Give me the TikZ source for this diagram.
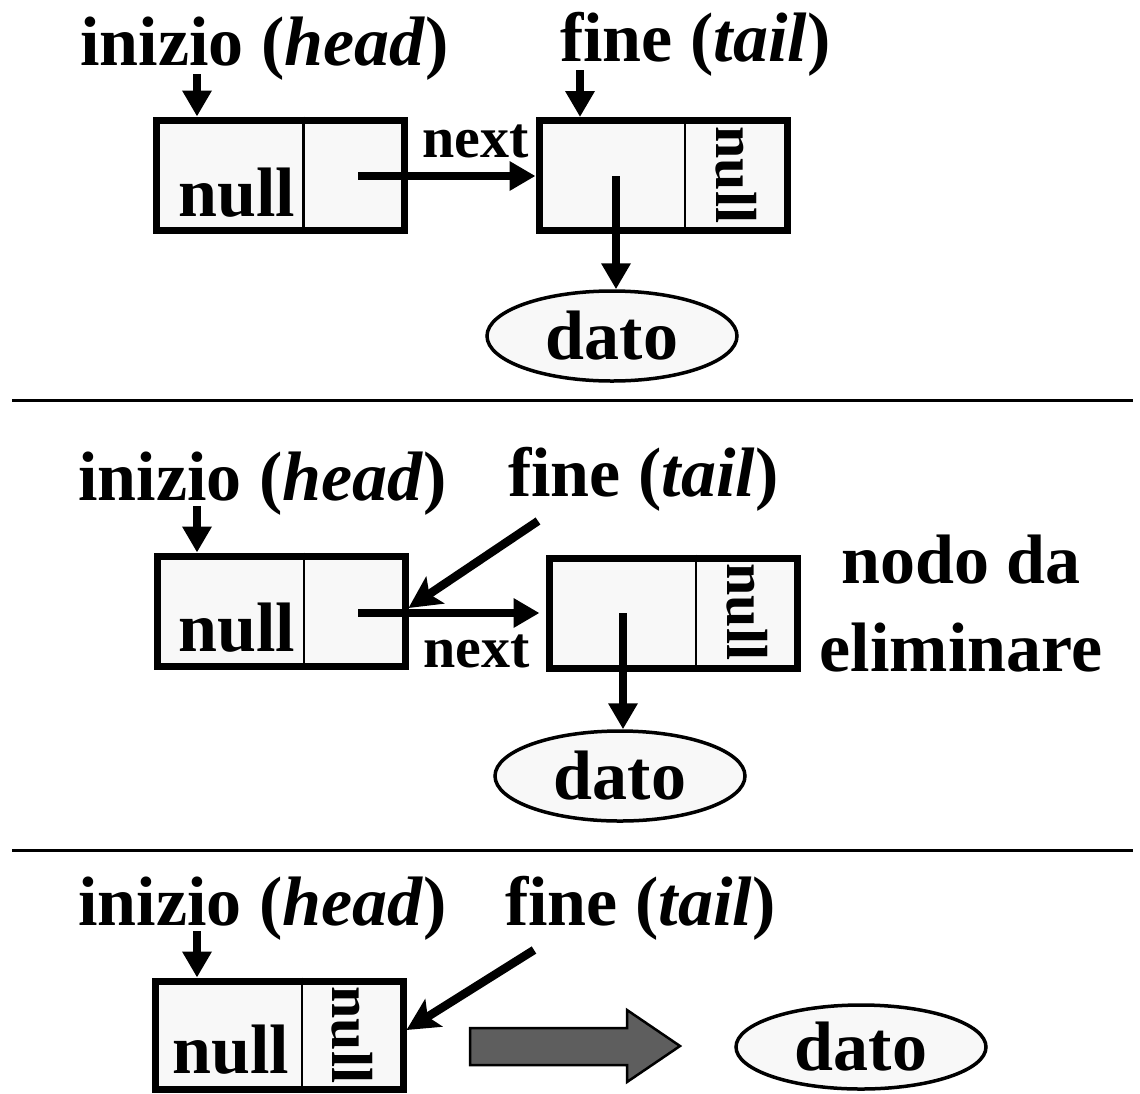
\documentclass[tikz,border=0pt]{standalone}
\usepackage{fontspec}
\setmainfont{Liberation Serif}
\usetikzlibrary{arrows.meta,shapes.geometric}
\definecolor{cellfill}{HTML}{F8F8F8}
\definecolor{bigarrow}{HTML}{5E5E5E}
\begin{document}
\begin{tikzpicture}[x=1pt,y=-1pt,
  lbl/.style={inner sep=0pt, anchor=base west, font=\fontsize{70}{80}\selectfont\bfseries},
  nextlbl/.style={inner sep=0pt, anchor=base west, font=\fontsize{58}{66}\selectfont\bfseries},
  rotnull/.style={inner sep=0pt, anchor=center, rotate=-90, font=\fontsize{58}{64}\selectfont\bfseries},
  cell/.style={draw, line width=7pt, fill=cellfill, minimum width=248pt, minimum height=110pt, inner sep=0pt},
  divider/.style={line width=2.5pt},
  datum/.style={ellipse, draw, line width=3.5pt, fill=cellfill, minimum width=250pt, minimum height=90pt, inner sep=0pt, font=\fontsize{70}{80}\selectfont\bfseries},
  ptr/.style={line width=8.5pt, -{Triangle[length=26pt,width=28pt]}},
  diag/.style={line width=8.5pt, -{Stealth[length=32pt,width=32pt,inset=7pt]}},
  sep/.style={line width=3pt}
]
\useasboundingbox (0,0) rectangle (1140,1093);

% ---------------- Panel 1 ----------------
\node[lbl] (ih1) at (80,65) {inizio (\textit{head})};
\node[lbl] (ft1) at (560,61) {fine (\textit{tail})};
\node[cell] (a1) at (280.5,175) {};
\draw[divider] ([xshift=23pt]a1.north) -- ([xshift=23pt]a1.south);
\node[cell] (b1) at (663,175.5) {};
\draw[divider] ([xshift=22pt]b1.north) -- ([xshift=22pt]b1.south);
\node[lbl] (n1) at (178,216) {null};
\node[rotnull] (r1) at (736,175) {null};
\node[nextlbl] (x1) at (422,157) {next};
\node[datum] (e1) at (612,336) {dato};
\coordinate (h1) at (197,74);
\coordinate (t1) at (580,70);
\coordinate (p1) at (358,176);
\coordinate (d1) at (616,176);
\draw[ptr] (h1) -- (h1 |- a1.north);
\draw[ptr] (t1) -- (t1 |- b1.north);
\draw[ptr] (p1) -- (p1 -| b1.west);
\draw[ptr] (d1) -- (d1 |- e1.north);

\coordinate (s1a) at (12,400);
\coordinate (s1b) at (1133,400);
\draw[sep] (s1a) -- (s1b);

% ---------------- Panel 2 ----------------
\node[lbl] (ih2) at (78,500) {inizio (\textit{head})};
\node[lbl] (ft2) at (508,496) {fine (\textit{tail})};
\node[cell] (a2) at (281,611) {};
\draw[divider] ([xshift=23pt]a2.north) -- ([xshift=23pt]a2.south);
\node[cell] (b2) at (673,613) {};
\draw[divider] ([xshift=23pt]b2.north) -- ([xshift=23pt]b2.south);
\node[lbl] (n2) at (178,651) {null};
\node[rotnull] (r2) at (747,612) {null};
\node[nextlbl] (x2) at (423,667) {next};
\node[datum] (e2) at (620,776) {dato};
\node[inner sep=0pt, align=center, font=\fontsize{70}{88}\selectfont\bfseries] (del) at (961,604) {nodo da\\eliminare};
\coordinate (h2) at (197,506);
\coordinate (t2) at (538,521);
\coordinate (p2) at (358,613);
\coordinate (d2) at (623,613);
\draw[ptr] (h2) -- (h2 |- a2.north);
\draw[diag] (t2) -- ([yshift=3pt]a2.east);
\draw[ptr, shorten >=6pt] (p2) -- (p2 -| b2.west);
\draw[ptr] (d2) -- (d2 |- e2.north);

\coordinate (s2a) at (12,850);
\coordinate (s2b) at (1133,850);
\draw[sep] (s2a) -- (s2b);

% ---------------- Panel 3 ----------------
\node[lbl] (ih3) at (78,925) {inizio (\textit{head})};
\node[lbl] (ft3) at (505,925) {fine (\textit{tail})};
\node[cell, minimum height=108pt] (a3) at (279,1035) {};
\draw[divider] ([xshift=23pt]a3.north) -- ([xshift=23pt]a3.south);
\node[lbl] (n3) at (172,1073) {null};
\node[rotnull] (r3) at (352,1035) {null};
\node[datum, minimum height=84pt] (e3) at (861,1047) {dato};
\coordinate (h3) at (197,931);
\coordinate (t3) at (534,950);
\draw[ptr] (h3) -- (h3 |- a3.north);
\draw[diag] (t3) -- ([yshift=5pt]a3.east);
\draw[line width=2.5pt, fill=bigarrow, line join=miter]
  (470,1028) -- (627,1028) -- (627,1010) -- (680,1046) -- (627,1082) -- (627,1065) -- (470,1065) -- cycle;
\end{tikzpicture}
\end{document}
